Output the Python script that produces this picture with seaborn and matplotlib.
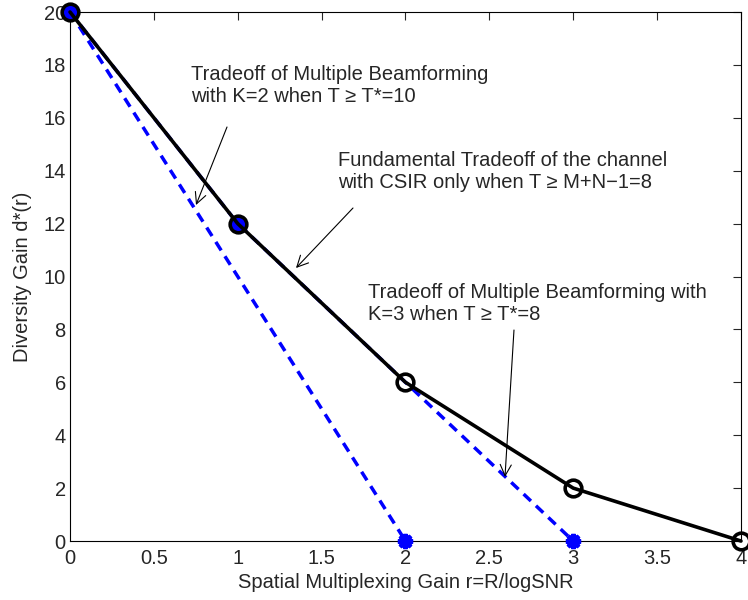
import matplotlib
matplotlib.use("Agg")
import matplotlib.pyplot as plt
import seaborn as sns

# Data
r_fund = [0, 1, 2, 3, 4]
d_fund = [20, 12, 6, 2, 0]
r_k3 = [0, 1, 2, 3]
d_k3 = [20, 12, 6, 0]
r_k2 = [0, 2]
d_k2 = [20, 0]
r_dots = [0, 1]
d_dots = [20, 12]
r_stars = [2, 3]
d_stars = [0, 0]
xticks = [0, 0.5, 1, 1.5, 2, 2.5, 3, 3.5, 4]
xticklabels = ["0", "0.5", "1", "1.5", "2", "2.5", "3", "3.5", "4"]
yticks = list(range(0, 21, 2))

sns.set_style("white")
plt.rcParams['font.family'] = ['Liberation Sans', 'DejaVu Sans']
FS = 14.5

fig = plt.figure(figsize=(7.48, 6.0), dpi=100)
ax = fig.add_axes([0.0936, 0.0983, 0.8970, 0.8817])

blue = "#0000ff"
dash = (0, (2.9, 2.0))
sns.lineplot(x=r_k3, y=d_k3, ax=ax, color=blue, lw=2.5, linestyle=dash, clip_on=False)
sns.lineplot(x=r_k2, y=d_k2, ax=ax, color=blue, lw=2.5, linestyle=dash, clip_on=False)
ax.plot(r_dots, d_dots, linestyle="none", marker="o", ms=12, mfc=blue, mec=blue, clip_on=False, zorder=3)
ax.plot(r_stars, d_stars, linestyle="none", marker=(8, 2, 0), ms=11, mfc=blue, mec=blue, mew=3, clip_on=False, zorder=3)
sns.lineplot(x=r_fund, y=d_fund, ax=ax, color="black", lw=2.6, marker="o", ms=12,
             mfc="none", mec="black", mew=2.6, clip_on=False, zorder=4)

ax.set_xlim(0, 4)
ax.set_ylim(0, 20)
ax.set_xticks(xticks)
ax.set_xticklabels(xticklabels)
ax.set_yticks(yticks)
ax.tick_params(direction="in", top=True, right=True, length=6, width=0.8, labelsize=FS)
ax.tick_params(axis="x", pad=6)
ax.tick_params(axis="y", pad=3)
for s in ax.spines.values():
    s.set_color("black")
    s.set_linewidth(0.8)
ax.set_xlabel("Spatial Multiplexing Gain r=R/logSNR", fontsize=FS, labelpad=3)
ax.set_ylabel("Diversity Gain d*(r)", fontsize=FS, labelpad=8)

arrow = dict(arrowstyle="->", color="black", lw=0.8, mutation_scale=20, shrinkA=0, shrinkB=0)

def to_data(px, py):
    return ((px - 70) / 671 * 4, 20 * (541 - py) / 529)

ax.text(*to_data(191, 65), "Tradeoff of Multiple Beamforming\nwith K=2 when T \u2265 T*=10",
        fontsize=FS, ha="left", va="top", linespacing=1.2)
ax.annotate("", xy=to_data(196, 205), xytext=to_data(227, 127), arrowprops=arrow)

ax.text(*to_data(338, 151), "Fundamental Tradeoff of the channel\nwith CSIR only when T \u2265 M+N\u22121=8",
        fontsize=FS, ha="left", va="top", linespacing=1.2)
ax.annotate("", xy=to_data(296, 268), xytext=to_data(353, 208), arrowprops=arrow)

ax.text(*to_data(368, 283), "Tradeoff of Multiple Beamforming with\nK=3 when T \u2265 T*=8",
        fontsize=FS, ha="left", va="top", linespacing=1.2)
ax.annotate("", xy=to_data(505, 477), xytext=to_data(514, 330), arrowprops=arrow)

fig.savefig("out.png", dpi=100)
